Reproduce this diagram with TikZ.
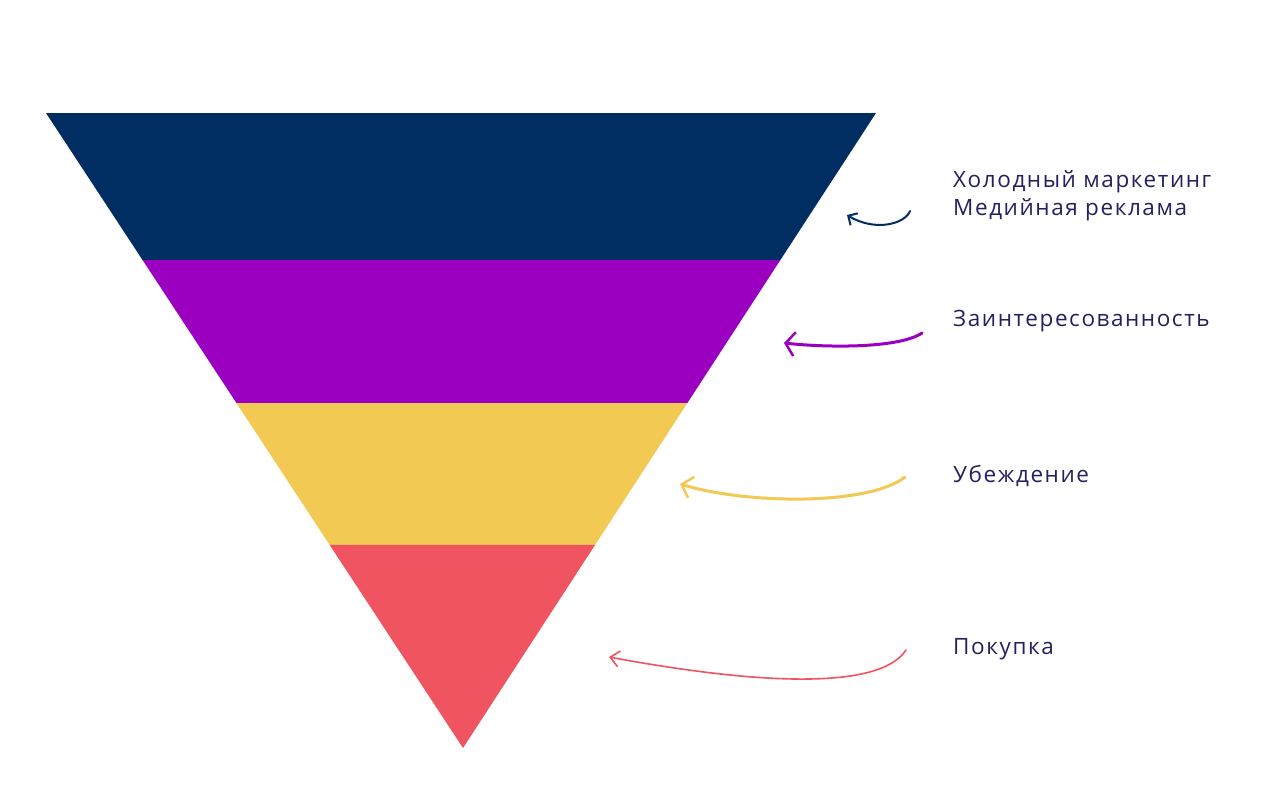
\documentclass[tikz,border=0pt]{standalone}
\usepackage{fontspec}
\setmainfont{Open Sans}[LetterSpace=7]
\usetikzlibrary{calc,arrows.meta}
\definecolor{navy}{RGB}{0,45,98}
\definecolor{purp}{RGB}{155,0,193}
\definecolor{gold}{RGB}{242,201,82}
\definecolor{coral}{RGB}{240,84,96}
\definecolor{txt}{RGB}{36,33,95}
\tikzset{
  lbl/.style={anchor=west, text=txt, font=\fontsize{22.5}{28}\selectfont, inner sep=0pt, align=left},
}
\begin{document}
\begin{tikzpicture}[x=1pt,y=-1pt]
\useasboundingbox (0,0) rectangle (1280,806);
\fill[white] (0,0) rectangle (1280,806);
\coordinate (tl) at (46,113);
\coordinate (tr) at (876,113);
\coordinate (ap) at (463,748);
\coordinate (l1) at ($(tl)!0.2315!(ap)$);
\coordinate (r1) at ($(tr)!0.2315!(ap)$);
\coordinate (l2) at ($(tl)!0.4567!(ap)$);
\coordinate (r2) at ($(tr)!0.4567!(ap)$);
\coordinate (l3) at ($(tl)!0.6803!(ap)$);
\coordinate (r3) at ($(tr)!0.6803!(ap)$);
\fill[navy] (tl) -- (tr) -- (r1) -- (l1) -- cycle;
\fill[purp] (l1) -- (r1) -- (r2) -- (l2) -- cycle;
\fill[gold] (l2) -- (r2) -- (r3) -- (l3) -- cycle;
\fill[coral] (l3) -- (r3) -- (ap) -- cycle;

\node[lbl] (t1) at (953,196) {Холодный маркетинг\\Медийная реклама};
\node[lbl] (t2) at (953,321) {Заинтересованность};
\node[lbl] (t3) at (953,476) {Убеждение};
\node[lbl] (t4) at (953,649) {Покупка};

\coordinate (s1) at (910,211);
\coordinate (e1) at (847,215);
\coordinate (s2) at (922,333);
\coordinate (e2) at (784,343);
\coordinate (s3) at (905,477);
\coordinate (e3) at (680,484);
\coordinate (s4) at (906,650);
\coordinate (e4) at (609,657);

\draw[navy, line width=2pt, line cap=round, -{Straight Barb[length=7pt,width=14pt,line width=2pt]}]
  (s1) .. controls (905,224) and (875,232) .. (e1);
\draw[purp, line width=3pt, line cap=round, -{Straight Barb[length=9pt,width=24pt,line width=2.5pt]}]
  (s2) .. controls (900,348) and (830,348) .. (e2);
\draw[gold, line width=3pt, line cap=round, -{Straight Barb[length=10pt,width=22pt,line width=2.5pt]}]
  (s3) .. controls (870,505) and (750,505) .. (e3);
\draw[coral, line width=1.6pt, line cap=round, -{Straight Barb[length=9pt,width=16pt,line width=1.6pt]}]
  (s4) .. controls (880,690) and (760,685) .. (e4);
\end{tikzpicture}
\end{document}
